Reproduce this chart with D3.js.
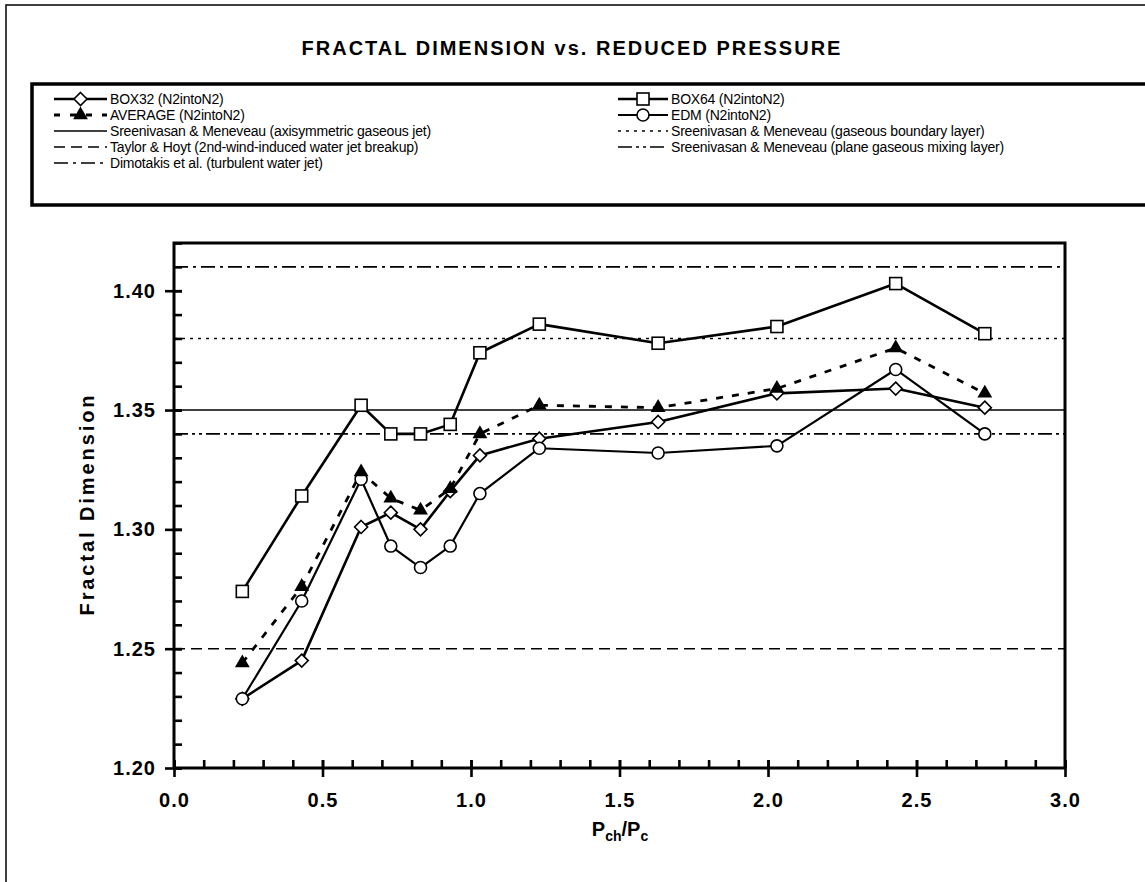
<!DOCTYPE html>
<html>
<head>
<meta charset="utf-8">
<script src="https://cdn.jsdelivr.net/npm/d3@7"></script>
<style>
  html, body { margin: 0; padding: 0; background: #fff; }
  svg { display: block; }
  text { font-family: "Liberation Sans", Arial, sans-serif; fill: #000; }
</style>
</head>
<body>
<svg id="chart" width="1145" height="882"></svg>
<script>
// ---------------- DATA ----------------
const pressure = [0.23, 0.43, 0.63, 0.73, 0.83, 0.93, 1.03, 1.23, 1.63, 2.03, 2.43, 2.73];
const box32   = [1.229, 1.245, 1.301, 1.307, 1.300, 1.316, 1.331, 1.338, 1.345, 1.357, 1.359, 1.351];
const box64   = [1.274, 1.314, 1.352, 1.340, 1.340, 1.344, 1.374, 1.386, 1.378, 1.385, 1.403, 1.382];
const average = [1.244, 1.276, 1.324, 1.313, 1.308, 1.317, 1.340, 1.352, 1.351, 1.359, 1.376, 1.357];
const edm     = [1.229, 1.270, 1.321, 1.293, 1.284, 1.293, 1.315, 1.334, 1.332, 1.335, 1.367, 1.340];

const refNames  = ["Sreenivasan & Meneveau (axisymmetric gaseous jet)",
                   "Sreenivasan & Meneveau (gaseous boundary layer)",
                   "Taylor & Hoyt (2nd-wind-induced water jet breakup)",
                   "Sreenivasan & Meneveau (plane gaseous mixing layer)",
                   "Dimotakis et al. (turbulent water jet)"];
const refValues = [1.35, 1.38, 1.25, 1.34, 1.41];

const xTicks = [0.0, 0.5, 1.0, 1.5, 2.0, 2.5, 3.0];
const yTicks = [1.20, 1.25, 1.30, 1.35, 1.40];

const titleText = "FRACTAL DIMENSION vs. REDUCED PRESSURE";
const yTitle = "Fractal Dimension";

// ---------------- STYLES ----------------
const refDash = {
  "Sreenivasan & Meneveau (axisymmetric gaseous jet)": null,
  "Sreenivasan & Meneveau (gaseous boundary layer)": "3,5",
  "Taylor & Hoyt (2nd-wind-induced water jet breakup)": "11,6",
  "Sreenivasan & Meneveau (plane gaseous mixing layer)": "14,4,3,4,3,4",
  "Dimotakis et al. (turbulent water jet)": "14,5,3,5"
};

const svg = d3.select("#chart");
const W = 1145, H = 882;
const plot = { left: 174, right: 1065, top: 243, bottom: 768 };

const x = d3.scaleLinear().domain([0, 3]).range([plot.left, plot.right]);
const y = d3.scaleLinear().domain([1.20, 1.42]).range([plot.bottom, plot.top]);

// outer frame
svg.append("rect").attr("x", 6).attr("y", 5).attr("width", W + 20).attr("height", H + 20)
  .attr("fill", "none").attr("stroke", "#000").attr("stroke-width", 1.5);

// title
svg.append("text").attr("x", 572).attr("y", 55).attr("text-anchor", "middle")
  .style("font-size", "20px").style("font-weight", "bold").style("letter-spacing", "2px")
  .text(titleText);

// legend box
svg.append("rect").attr("x", 32).attr("y", 84).attr("width", W).attr("height", 121)
  .attr("fill", "none").attr("stroke", "#000").attr("stroke-width", 3.5);

// ---------------- markers ----------------
function marker(g, type, cx, cy) {
  if (type === "diamond") {
    const s = 6.5;
    g.append("path").attr("d", `M${cx},${cy - s}L${cx + s},${cy}L${cx},${cy + s}L${cx - s},${cy}Z`)
      .attr("fill", "#fff").attr("stroke", "#000").attr("stroke-width", 1.6);
  } else if (type === "square") {
    g.append("rect").attr("x", cx - 6).attr("y", cy - 6).attr("width", 12).attr("height", 12)
      .attr("fill", "#fff").attr("stroke", "#000").attr("stroke-width", 1.6);
  } else if (type === "circle") {
    g.append("circle").attr("cx", cx).attr("cy", cy).attr("r", 6)
      .attr("fill", "#fff").attr("stroke", "#000").attr("stroke-width", 1.6);
  } else if (type === "triangle") {
    g.append("path").attr("d", d3.symbol().type(d3.symbolTriangle).size(95)())
      .attr("transform", `translate(${cx},${cy})`).attr("fill", "#000");
  }
}

const series = [
  { name: "BOX32 (N2intoN2)", values: box32, marker: "diamond", width: 2.6, dash: null },
  { name: "BOX64 (N2intoN2)", values: box64, marker: "square", width: 2.6, dash: null },
  { name: "AVERAGE (N2intoN2)", values: average, marker: "triangle", width: 2.8, dash: "7,9" },
  { name: "EDM (N2intoN2)", values: edm, marker: "circle", width: 2.2, dash: null }
];

// ---------------- legend ----------------
const legLeft = [
  { kind: "series", s: series[0] },
  { kind: "series", s: series[2] },
  { kind: "ref", name: refNames[0] },
  { kind: "ref", name: refNames[2] },
  { kind: "ref", name: refNames[4] }
];
const legRight = [
  { kind: "series", s: series[1] },
  { kind: "series", s: series[3] },
  { kind: "ref", name: refNames[1] },
  { kind: "ref", name: refNames[3] }
];
const rowY = [99, 115, 131, 147, 163];
function drawLegend(items, x0, x1, tx) {
  const g = svg.append("g");
  items.forEach((it, i) => {
    const yy = rowY[i];
    const lbl = it.kind === "series" ? it.s.name : it.name;
    if (it.kind === "series") {
      g.append("line").attr("x1", x0).attr("x2", x1).attr("y1", yy).attr("y2", yy)
        .attr("stroke", "#000").attr("stroke-width", it.s.width)
        .attr("stroke-dasharray", it.s.dash ? "6,10" : null);
      marker(g, it.s.marker, (x0 + x1) / 2, yy);
    } else {
      g.append("line").attr("x1", x0).attr("x2", x1).attr("y1", yy).attr("y2", yy)
        .attr("stroke", "#000").attr("stroke-width", 1.4)
        .attr("stroke-dasharray", refDash[it.name]);
    }
    g.append("text").attr("x", tx).attr("y", yy + 5).style("font-size", "14px")
      .style("letter-spacing", "-0.2px").text(lbl);
  });
}
drawLegend(legLeft, 54, 107, 110);
drawLegend(legRight, 618, 668, 671);

// ---------------- reference lines ----------------
const refG = svg.append("g");
refNames.forEach((n, i) => {
  refG.append("line").attr("x1", plot.left).attr("x2", plot.right)
    .attr("y1", y(refValues[i])).attr("y2", y(refValues[i]))
    .attr("stroke", "#000").attr("stroke-width", 1.6)
    .attr("stroke-dasharray", refDash[n]);
});

// ---------------- axes ----------------
svg.append("rect").attr("x", plot.left).attr("y", plot.top)
  .attr("width", plot.right - plot.left).attr("height", plot.bottom - plot.top)
  .attr("fill", "none").attr("stroke", "#000").attr("stroke-width", 3);

const xMinor = d3.range(0, 31).map(d => d / 10);
const gxm = svg.append("g").attr("transform", `translate(0,${plot.bottom})`)
  .call(d3.axisTop(x).tickValues(xMinor).tickSize(8).tickFormat(""));
const gx = svg.append("g").attr("transform", `translate(0,${plot.bottom})`)
  .call(d3.axisBottom(x).tickValues(xTicks).tickSize(9).tickPadding(16).tickFormat(d3.format(".1f")));
const gxu = svg.append("g").attr("transform", `translate(0,${plot.bottom})`)
  .call(d3.axisTop(x).tickValues(xTicks).tickSize(8).tickFormat(""));

const yMinor = d3.range(120, 143).map(d => d / 100);
const gym = svg.append("g").attr("transform", `translate(${plot.left},0)`)
  .call(d3.axisRight(y).tickValues(yMinor).tickSize(8).tickFormat(""));
const gy = svg.append("g").attr("transform", `translate(${plot.left},0)`)
  .call(d3.axisLeft(y).tickValues(yTicks).tickSize(9).tickPadding(9).tickFormat(d3.format(".2f")));
const gyr = svg.append("g").attr("transform", `translate(${plot.left},0)`)
  .call(d3.axisRight(y).tickValues(yTicks).tickSize(8).tickFormat(""));

[gxm, gx, gxu, gym, gy, gyr].forEach(g => {
  g.select(".domain").remove();
  g.selectAll(".tick line").attr("stroke", "#000").attr("stroke-width", 2.6);
});
[gx, gy].forEach(g => g.selectAll(".tick text").style("font-size", "20px").style("font-weight", "bold")
  .style("font-family", "'Liberation Sans', Arial, sans-serif").attr("fill", "#000")
  .style("letter-spacing", "1px"));

// axis titles
svg.append("text").attr("transform", `translate(94,${(plot.top + plot.bottom) / 2}) rotate(-90)`)
  .attr("text-anchor", "middle").style("font-size", "20px").style("font-weight", "600")
  .attr("textLength", 220).attr("lengthAdjust", "spacing")
  .text(yTitle);

const xl = svg.append("text").attr("x", 620).attr("y", 836).attr("text-anchor", "middle")
  .style("font-size", "20px").style("font-weight", "bold");
xl.append("tspan").text("P");
xl.append("tspan").attr("dy", 5).style("font-size", "14px").text("ch");
xl.append("tspan").attr("dy", -5).text("/P");
xl.append("tspan").attr("dy", 5).style("font-size", "14px").text("c");

// ---------------- series ----------------
const line = d3.line().x((d, i) => x(pressure[i])).y(d => y(d));
const order = [series[1], series[0], series[3], series[2]];
order.forEach(s => {
  svg.append("path").datum(s.values).attr("d", line).attr("fill", "none")
    .attr("stroke", "#000").attr("stroke-width", s.width)
    .attr("stroke-dasharray", s.dash).attr("stroke-linejoin", "round");
});
order.forEach(s => {
  const g = svg.append("g");
  s.values.forEach((v, i) => marker(g, s.marker, x(pressure[i]), y(v)));
});
</script>
</body>
</html>
